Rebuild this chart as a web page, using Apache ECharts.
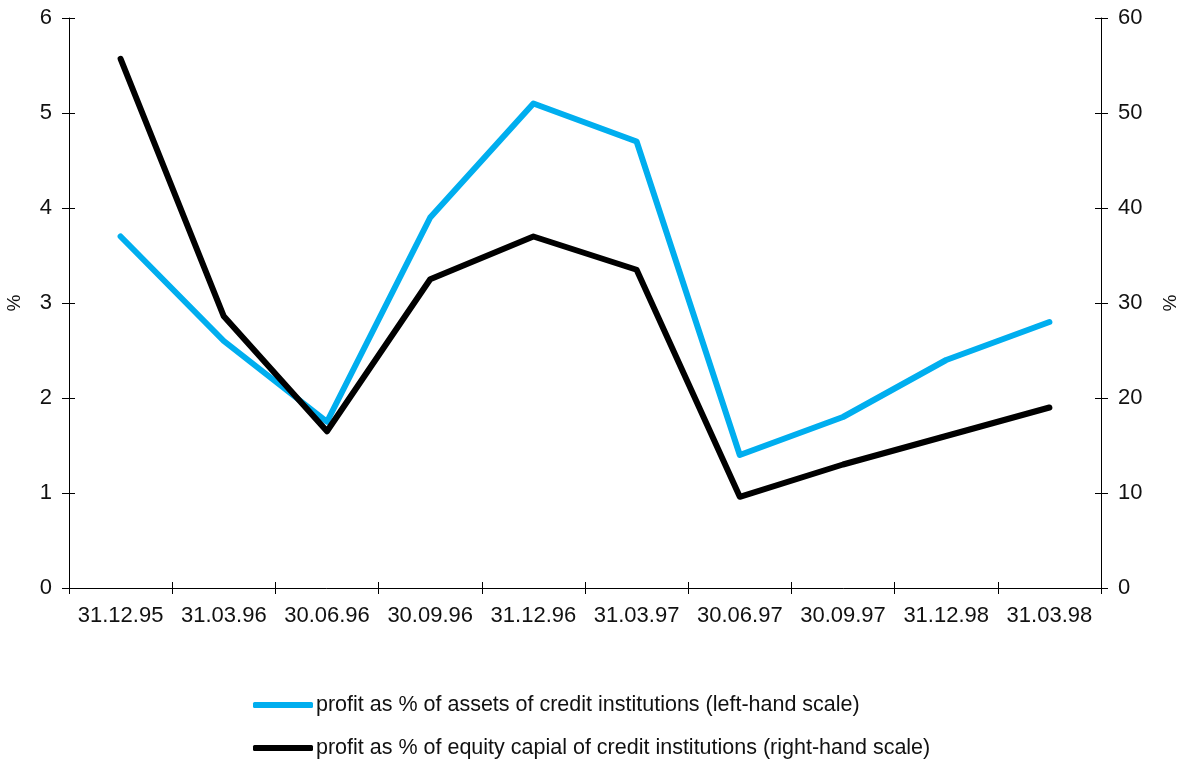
<!DOCTYPE html>
<html>
<head>
<meta charset="utf-8">
<script src="https://cdn.jsdelivr.net/npm/echarts@6/dist/echarts.min.js"></script>
<style>
html,body{margin:0;padding:0;background:#fff;}
#chart{width:1184px;height:765px;}
</style>
</head>
<body>
<div id="chart"></div>
<script>
const categories = ['31.12.95','31.03.96','30.06.96','30.09.96','31.12.96','31.03.97','30.06.97','30.09.97','31.12.98','31.03.98'];
const assetsProfit = [3.7, 2.6, 1.75, 3.9, 5.1, 4.7, 1.4, 1.8, 2.4, 2.8];
const equityProfit = [55.7, 28.6, 16.5, 32.5, 37.0, 33.5, 9.6, 13.0, 16.0, 19.0];
const leftTicks = { min: 0, max: 6, interval: 1 };
const rightTicks = { min: 0, max: 60, interval: 10 };
const seriesNames = [
  'profit as % of assets of credit institutions (left-hand scale)',
  'profit as % of equity capial of credit institutions (right-hand scale)'
];

const FONT = '"Liberation Sans", Arial, sans-serif';
const axisLine = { show: true, lineStyle: { color: '#000', width: 1 } };
const tickStyle = { color: '#000', width: 1 };
const legendText = { fontFamily: FONT, fontSize: 21.5, color: '#111', lineHeight: 24, padding: [0, 0, 0, -2] };
const labelText = { fontFamily: FONT, fontSize: 22, color: '#111' };

function legendFor(name, top) {
  return {
    orient: 'vertical', left: 253, top: top, padding: 0,
    itemWidth: 60, itemHeight: 6, icon: 'roundRect',
    textStyle: legendText, data: [name], selectedMode: false
  };
}

const chart = echarts.init(document.getElementById('chart'), null, { renderer: 'canvas' });
chart.setOption({
  animation: false,
  backgroundColor: '#fff',
  grid: { left: 69, right: 83, top: 18, bottom: 177, containLabel: false, outerBoundsMode: 'none' },
  legend: [legendFor(seriesNames[0], 693), legendFor(seriesNames[1], 736)],
  xAxis: [
    {
      type: 'category', data: categories, position: 'bottom', boundaryGap: true,
      axisLine: axisLine,
      axisTick: { show: true, inside: false, length: 6, lineStyle: tickStyle },
      axisLabel: Object.assign({ margin: 17, interval: 0 }, labelText),
      splitLine: { show: false }
    },
    {
      type: 'category', data: categories, position: 'bottom', boundaryGap: true, offset: 0,
      axisLine: { show: false },
      axisTick: { show: true, inside: true, length: 6, lineStyle: tickStyle },
      axisLabel: { show: false },
      splitLine: { show: false }
    }
  ],
  yAxis: [
    {
      type: 'value', position: 'left', min: leftTicks.min, max: leftTicks.max, interval: leftTicks.interval,
      name: '%', nameLocation: 'middle', nameRotate: 90, nameGap: 45,
      nameTextStyle: { fontFamily: FONT, fontSize: 19, color: '#111' },
      axisLine: axisLine,
      axisTick: { show: true, inside: false, length: 7, lineStyle: tickStyle },
      axisLabel: Object.assign({ margin: 17 }, labelText),
      splitLine: { show: false }
    },
    {
      type: 'value', position: 'left', offset: 0, min: leftTicks.min, max: leftTicks.max, interval: leftTicks.interval,
      axisLine: { show: false },
      axisTick: { show: true, inside: true, length: 6, lineStyle: tickStyle },
      axisLabel: { show: false },
      splitLine: { show: false }
    },
    {
      type: 'value', position: 'right', min: rightTicks.min, max: rightTicks.max, interval: rightTicks.interval,
      name: '%', nameLocation: 'middle', nameRotate: 90, nameGap: 60,
      nameTextStyle: { fontFamily: FONT, fontSize: 19, color: '#111' },
      axisLine: axisLine,
      axisTick: { show: true, inside: false, length: 7, lineStyle: tickStyle },
      axisLabel: Object.assign({ margin: 17 }, labelText),
      splitLine: { show: false }
    },
    {
      type: 'value', position: 'right', offset: 0, min: rightTicks.min, max: rightTicks.max, interval: rightTicks.interval,
      axisLine: { show: false },
      axisTick: { show: true, inside: true, length: 6, lineStyle: tickStyle },
      axisLabel: { show: false },
      splitLine: { show: false }
    }
  ],
  series: [
    {
      name: seriesNames[0], type: 'line', xAxisIndex: 0, yAxisIndex: 0,
      data: assetsProfit, symbol: 'none', smooth: false,
      itemStyle: { color: '#00AEEF' },
      lineStyle: { color: '#00AEEF', width: 6, cap: 'round', join: 'round' },
      z: 2
    },
    {
      name: seriesNames[1], type: 'line', xAxisIndex: 0, yAxisIndex: 2,
      data: equityProfit, symbol: 'none', smooth: false,
      itemStyle: { color: '#000' },
      lineStyle: { color: '#000', width: 6, cap: 'round', join: 'round' },
      z: 3
    }
  ]
});
</script>
</body>
</html>
